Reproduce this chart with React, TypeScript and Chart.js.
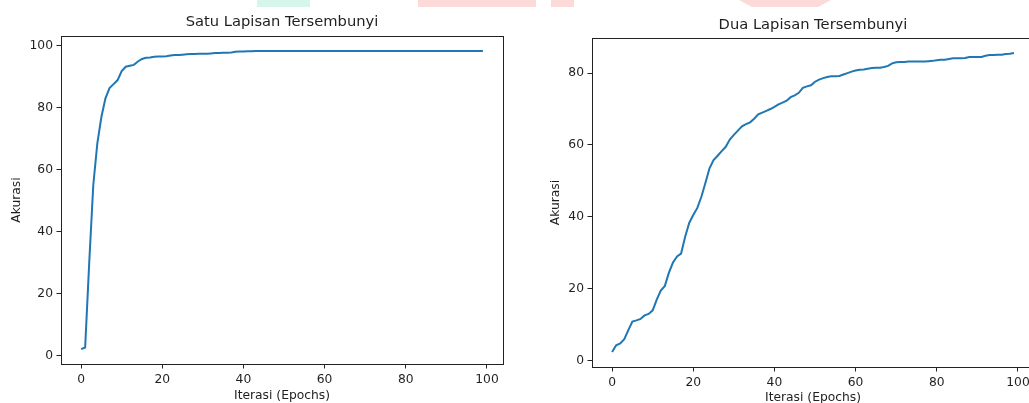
import React, { useEffect, useRef } from "react";
import { Chart, registerables } from "chart.js";

Chart.register(...registerables);

const FONT = "DejaVu Sans";
const TEXT = "#1f1f1f";
const SPINE = "#222222";
const LINE = "#1f77b4";

const epochs = Array.from({ length: 100 }, (_, i) => i);

const satuLapisan = [
  2.2, 2.7, 30, 55, 68.5, 77, 83, 86.3, 87.6, 88.9,
  91.8, 93.2, 93.5, 93.8, 94.9, 95.7, 96.1, 96.2, 96.4, 96.5,
  96.5, 96.6, 96.8, 97.0, 97.0, 97.1, 97.2, 97.3, 97.3, 97.4,
  97.4, 97.4, 97.5, 97.6, 97.6, 97.7, 97.7, 97.8, 98.0, 98.1,
  98.1, 98.2, 98.2, 98.3, 98.3, 98.3, 98.3, 98.3, 98.3, 98.3,
  98.3, 98.3, 98.3, 98.3, 98.3, 98.3, 98.3, 98.3, 98.3, 98.3,
  98.3, 98.3, 98.3, 98.3, 98.3, 98.3, 98.3, 98.3, 98.3, 98.3,
  98.3, 98.3, 98.3, 98.3, 98.3, 98.3, 98.3, 98.3, 98.3, 98.3,
  98.3, 98.3, 98.3, 98.3, 98.3, 98.3, 98.3, 98.3, 98.3, 98.3,
  98.3, 98.3, 98.3, 98.3, 98.3, 98.3, 98.3, 98.3, 98.3, 98.3,
];

const duaLapisan = [
  2.4, 4.3, 4.8, 6.0, 8.5, 10.9, 11.2, 11.6, 12.6, 13.0,
  14.0, 17.0, 19.5, 20.8, 24.5, 27.3, 29.0, 29.8, 34.5, 38.3,
  40.5, 42.5, 45.6, 49.5, 53.5, 55.8, 57.0, 58.3, 59.5, 61.5,
  62.8, 64.0, 65.2, 65.8, 66.3, 67.3, 68.5, 69.0, 69.5, 70.0,
  70.6, 71.3, 71.8, 72.3, 73.3, 73.8, 74.5, 75.9, 76.3, 76.6,
  77.6, 78.2, 78.6, 78.9, 79.1, 79.1, 79.2, 79.6, 80.0, 80.4,
  80.7, 80.9, 81.0, 81.2, 81.4, 81.5, 81.5, 81.7, 82.0, 82.7,
  83.0, 83.1, 83.1, 83.2, 83.2, 83.2, 83.2, 83.2, 83.3, 83.4,
  83.6, 83.7, 83.7, 83.9, 84.1, 84.1, 84.1, 84.2, 84.5, 84.5,
  84.5, 84.5, 84.8, 85.0, 85.0, 85.1, 85.1, 85.3, 85.4, 85.6,
];

const xTicks = [0, 20, 40, 60, 80, 100];
const yTicksSatu = [0, 20, 40, 60, 80, 100];
const yTicksDua = [0, 20, 40, 60, 80];

const titleSatu = "Satu Lapisan Tersembunyi";
const titleDua = "Dua Lapisan Tersembunyi";
const xLabel = "Iterasi (Epochs)";
const yLabel = "Akurasi";

function padRange(vals: number[]): [number, number] {
  const lo = Math.min(...vals);
  const hi = Math.max(...vals);
  const m = (hi - lo) * 0.05;
  return [lo - m, hi + m];
}

const framePlugin = {
  id: "frame",
  afterDraw(chart: any) {
    const { ctx, chartArea: a } = chart;
    ctx.save();
    ctx.strokeStyle = SPINE;
    ctx.lineWidth = 1;
    ctx.strokeRect(a.left + 0.5, a.top + 0.5, a.right - a.left, a.bottom - a.top);
    ctx.restore();
  },
};

type Layout = {
  yAxisWidth: number;
  xAxisHeight: number;
  titlePadTop: number;
  titlePadBottom: number;
  padRight: number;
  yTitlePad: number;
  xTitlePad: number;
};

function makeConfig(values: number[], yTicks: number[], title: string, L: Layout): any {
  const [xmin, xmax] = padRange(epochs);
  const [ymin, ymax] = padRange(values);
  const tickFont = { family: FONT, size: 12.3 };
  const grid = {
    display: true,
    drawOnChartArea: false,
    drawTicks: true,
    tickLength: 4.5,
    tickColor: SPINE,
    tickWidth: 1,
  };
  return {
    type: "line",
    data: {
      datasets: [
        {
          data: values.map((v, i) => ({ x: epochs[i], y: v })),
          borderColor: LINE,
          borderWidth: 2,
          pointRadius: 0,
          fill: false,
          tension: 0,
        },
      ],
    },
    options: {
      responsive: false,
      animation: false,
      devicePixelRatio: 1,
      layout: { padding: { left: 0, right: L.padRight, top: 0, bottom: 0 } },
      plugins: {
        legend: { display: false },
        tooltip: { enabled: false },
        title: {
          display: true,
          text: title,
          fullSize: false,
          color: TEXT,
          font: { family: FONT, size: 14.7, weight: "normal" },
          padding: { top: L.titlePadTop, bottom: L.titlePadBottom },
        },
      },
      scales: {
        x: {
          type: "linear",
          min: xmin,
          max: xmax,
          afterBuildTicks: (ax: any) => {
            ax.ticks = xTicks.map((v) => ({ value: v }));
          },
          afterFit: (ax: any) => {
            ax.height = L.xAxisHeight;
          },
          grid,
          border: { display: false },
          ticks: {
            color: TEXT,
            font: tickFont,
            padding: 3.5,
            maxRotation: 0,
            autoSkip: false,
            callback: (v: any) => String(v),
          },
          title: {
            display: true,
            text: xLabel,
            color: TEXT,
            font: tickFont,
            padding: { top: 0, bottom: L.xTitlePad },
          },
        },
        y: {
          type: "linear",
          min: ymin,
          max: ymax,
          afterBuildTicks: (ax: any) => {
            ax.ticks = yTicks.map((v) => ({ value: v }));
          },
          afterFit: (ax: any) => {
            ax.width = L.yAxisWidth;
          },
          grid,
          border: { display: false },
          ticks: {
            color: TEXT,
            font: tickFont,
            padding: 3.5,
            autoSkip: false,
            callback: (v: any) => String(v),
          },
          title: {
            display: true,
            text: yLabel,
            color: TEXT,
            font: tickFont,
            padding: { top: L.yTitlePad, bottom: 0 },
          },
        },
      },
    },
    plugins: [framePlugin],
  };
}

function Panel(props: { left: number; width: number; height: number; build: () => any }) {
  const ref = useRef<HTMLCanvasElement>(null);
  useEffect(() => {
    const c = new Chart(ref.current as HTMLCanvasElement, props.build());
    return () => c.destroy();
  }, []);
  return (
    <canvas
      ref={ref}
      width={props.width}
      height={props.height}
      style={{
        position: "absolute",
        left: props.left,
        top: 0,
        width: props.width,
        height: props.height,
      }}
    />
  );
}

export default function App() {
  return (
    <div
      style={{
        position: "absolute",
        left: 0,
        top: 0,
        width: 1029,
        height: 403,
        overflow: "hidden",
        background: "#ffffff",
      }}
    >
      <div style={{ position: "absolute", left: 257, top: 0, width: 53, height: 7, background: "#d6f6eb" }} />
      <div style={{ position: "absolute", left: 418, top: 0, width: 118, height: 7, background: "#fddada" }} />
      <div style={{ position: "absolute", left: 551, top: 0, width: 23, height: 7, background: "#fddada" }} />
      <div
        style={{
          position: "absolute",
          left: 739,
          top: 0,
          width: 92,
          height: 7,
          background: "#fddada",
          clipPath: "polygon(0 0, 100% 0, 86% 100%, 14% 100%)",
        }}
      />
      <Panel
        left={0}
        width={515}
        height={410}
        build={() =>
          makeConfig(satuLapisan, yTicksSatu, titleSatu, {
            yAxisWidth: 61,
            xAxisHeight: 46,
            titlePadTop: 13.6,
            titlePadBottom: 4.76,
            padRight: 12,
            yTitlePad: 9.1,
            xTitlePad: 6.6,
          })
        }
      />
      <Panel
        left={515}
        width={529}
        height={410}
        build={() =>
          makeConfig(duaLapisan, yTicksDua, titleDua, {
            yAxisWidth: 77,
            xAxisHeight: 43,
            titlePadTop: 16.2,
            titlePadBottom: 4.16,
            padRight: 10,
            yTitlePad: 33.4,
            xTitlePad: 4.6,
          })
        }
      />
    </div>
  );
}
